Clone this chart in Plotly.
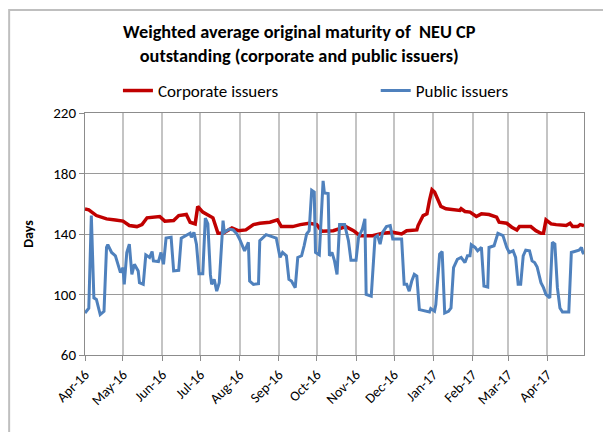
import plotly.graph_objects as go

corp_dates = ["2016-04-01","2016-04-04","2016-04-10","2016-04-18","2016-04-25","2016-05-01","2016-05-06","2016-05-12","2016-05-16","2016-05-20","2016-05-30","2016-06-03","2016-06-10","2016-06-14","2016-06-20","2016-06-23","2016-06-27","2016-06-29","2016-07-03","2016-07-11","2016-07-15","2016-07-19","2016-07-26","2016-07-31","2016-08-06","2016-08-12","2016-08-17","2016-08-25","2016-08-31","2016-09-03","2016-09-12","2016-09-18","2016-09-25","2016-10-01","2016-10-05","2016-10-14","2016-10-24","2016-10-30","2016-11-04","2016-11-14","2016-11-22","2016-11-30","2016-12-07","2016-12-11","2016-12-19","2016-12-20","2016-12-24","2016-12-27","2016-12-29","2016-12-31","2017-01-02","2017-01-05","2017-01-07","2017-01-11","2017-01-16","2017-01-22","2017-01-23","2017-01-26","2017-01-30","2017-02-04","2017-02-08","2017-02-14","2017-02-20","2017-02-22","2017-02-28","2017-03-04","2017-03-08","2017-03-10","2017-03-19","2017-03-23","2017-03-27","2017-03-29","2017-03-31","2017-04-04","2017-04-08","2017-04-16","2017-04-19","2017-04-21","2017-04-25","2017-04-27","2017-04-30"]
corp_values = [156.5,156,152.2,150,149.3,148.5,145.6,144.9,146.2,150.7,151.6,148.5,148.9,152.2,152.9,147.8,146.7,158.2,154.5,150.7,140.5,140.5,144,142.2,142.7,146.2,147.1,147.8,149.3,144.9,144.9,146.2,147.1,146.2,141.8,142.2,144.9,142.2,138.9,138.9,140.5,141.1,140,142.2,142.7,145.6,152.2,153.3,162.2,169.3,167.8,162.2,158.2,156.7,156,155.6,156.7,154.9,154.5,151.6,153.3,152.9,151.1,147.8,147.1,144.5,142.7,144.9,144.9,142.2,140.5,140.5,149.3,146.7,146.2,145.6,147.1,144.9,144.9,146.2,145.6]

pub_dates = ["2016-04-01","2016-04-04","2016-04-06","2016-04-08","2016-04-10","2016-04-13","2016-04-16","2016-04-18","2016-04-19","2016-04-22","2016-04-25","2016-04-29","2016-05-01","2016-05-02","2016-05-04","2016-05-06","2016-05-08","2016-05-10","2016-05-13","2016-05-14","2016-05-17","2016-05-19","2016-05-22","2016-05-24","2016-05-25","2016-05-29","2016-05-31","2016-06-02","2016-06-04","2016-06-08","2016-06-10","2016-06-14","2016-06-16","2016-06-20","2016-06-23","2016-06-24","2016-06-26","2016-06-28","2016-06-30","2016-07-03","2016-07-05","2016-07-07","2016-07-09","2016-07-10","2016-07-12","2016-07-14","2016-07-16","2016-07-19","2016-07-20","2016-07-24","2016-07-27","2016-07-30","2016-08-01","2016-08-05","2016-08-08","2016-08-09","2016-08-12","2016-08-16","2016-08-17","2016-08-22","2016-08-27","2016-08-30","2016-09-02","2016-09-04","2016-09-07","2016-09-09","2016-09-11","2016-09-14","2016-09-16","2016-09-19","2016-09-21","2016-09-23","2016-09-25","2016-09-27","2016-09-29","2016-09-30","2016-10-03","2016-10-06","2016-10-07","2016-10-10","2016-10-11","2016-10-13","2016-10-15","2016-10-17","2016-10-19","2016-10-23","2016-10-26","2016-10-28","2016-11-01","2016-11-03","2016-11-06","2016-11-08","2016-11-09","2016-11-13","2016-11-16","2016-11-18","2016-11-20","2016-11-22","2016-11-25","2016-11-28","2016-11-30","2016-12-07","2016-12-09","2016-12-11","2016-12-13","2016-12-15","2016-12-17","2016-12-19","2016-12-21","2016-12-24","2016-12-27","2016-12-29","2016-12-30","2017-01-02","2017-01-03","2017-01-06","2017-01-08","2017-01-10","2017-01-13","2017-01-15","2017-01-17","2017-01-20","2017-01-23","2017-01-26","2017-01-28","2017-01-30","2017-01-31","2017-02-03","2017-02-05","2017-02-08","2017-02-10","2017-02-13","2017-02-14","2017-02-18","2017-02-21","2017-02-25","2017-02-28","2017-03-02","2017-03-05","2017-03-07","2017-03-09","2017-03-11","2017-03-13","2017-03-15","2017-03-18","2017-03-20","2017-03-22","2017-03-24","2017-03-27","2017-03-29","2017-03-31","2017-04-03","2017-04-05","2017-04-07","2017-04-09","2017-04-11","2017-04-13","2017-04-18","2017-04-20","2017-04-24","2017-04-26","2017-04-28","2017-04-29","2017-04-30"]
pub_values = [87.8,91,152.2,97.8,96.7,86.7,88.9,131.1,132.9,127.8,125.6,114.5,117.8,106.7,127.8,133.3,113.3,120,115.6,107.8,106.7,126.2,124.5,128.4,122.2,121.8,127.8,120,137.3,137.8,115.6,116,137.3,138.9,140.5,137.8,141.1,133.3,113.8,113.8,150.5,146.7,113.3,106.7,110,102.2,107.8,148.9,141.1,143.3,142.7,140,136.7,128.9,134.5,108.9,106.7,107.1,135.6,139.6,138.2,137.3,124.5,127.8,125.6,110,108.9,104.5,124.5,125.6,132.2,140,142.2,168.9,167.8,127.8,126.2,175.1,167.1,166.7,125.6,127.8,122.2,113.3,146.2,146.2,135.6,122.7,122.7,137.8,143.3,150,100,98.9,137.8,138.9,133.3,141.1,144.9,145.6,136.7,136.7,106.7,106.7,102.2,108.9,113.3,112.2,90,89.3,88.9,88.4,90.7,88.9,93.3,126.7,128.4,87.8,88.9,91.1,117.8,123.3,124.5,121.1,125.6,125.6,132.9,131.1,128.9,131.1,105.6,104.9,131.1,132.2,140.5,138.9,131.1,127.8,128.9,124.5,106.7,106.7,125.6,129.3,128.9,122.2,121.1,118.2,107.8,104.5,100,97.8,134.5,133.3,104.5,91.1,88.4,88.4,127.8,128.9,129.3,131.1,127.8,126.7]

y_ticks = [60, 100, 140, 180, 220]

FONT = "Carlito, 'Liberation Sans Narrow', 'Open Sans', sans-serif"

fig = go.Figure()
fig.add_trace(go.Scatter(x=corp_dates, y=corp_values, mode="lines", name="Corporate issuers",
                         line=dict(color="#C00000", width=3.5), legend="legend"))
fig.add_trace(go.Scatter(x=pub_dates, y=pub_values, mode="lines", name="Public issuers",
                         line=dict(color="#4F81BD", width=3), legend="legend2"))

leg_common = dict(yanchor="middle", xanchor="left", bgcolor="rgba(0,0,0,0)",
                  font=dict(family=FONT, size=17, color="#000000"), itemwidth=30)

fig.update_layout(
    width=603, height=424,
    margin=dict(l=77, r=27, t=105, b=77, autoexpand=False),
    paper_bgcolor="white", plot_bgcolor="white",
    font=dict(family=FONT, size=14, color="#000000"),
    title=dict(text="<b>Weighted average original maturity of  NEU CP<br>outstanding (corporate and public issuers)</b>",
               x=0.483, xanchor="center", xref="container", y=0.929, yanchor="top",
               font=dict(family=FONT, size=18.3, color="#000000")),
    showlegend=True,
    legend=dict(x=0.066, y=1.091, **leg_common),
    legend2=dict(x=0.5826, y=1.091, **leg_common),
    xaxis=dict(type="date", range=["2016-04-01", "2017-04-30"],
               tick0="2016-04-01", dtick="M1", tickformat="%b-%y", tickangle=-45,
               showgrid=True, gridcolor="#C4C4C4", gridwidth=2,
               showline=True, linecolor="#8C8C8C", linewidth=1, mirror=True,
               ticks="outside", ticklen=5, tickcolor="#8C8C8C",
               tickfont=dict(family=FONT, size=14), zeroline=False),
    yaxis=dict(range=[60, 220], tickvals=y_ticks,
               showgrid=True, gridcolor="#9A9A9A", gridwidth=1,
               showline=True, linecolor="#8C8C8C", linewidth=1, mirror=True,
               ticks="outside", ticklen=5, tickcolor="#8C8C8C",
               tickfont=dict(family=FONT, size=15), zeroline=False,
               title=dict(text="<b>Days</b>", font=dict(family=FONT, size=14), standoff=16)),
    shapes=[dict(type="rect", xref="paper", yref="paper", x0=-0.152, x1=1.2, y0=-0.6, y1=1.4256,
                 line=dict(color="#BFBFBF", width=2), fillcolor="rgba(0,0,0,0)", layer="above")],
)

fig.write_html("out.html")
